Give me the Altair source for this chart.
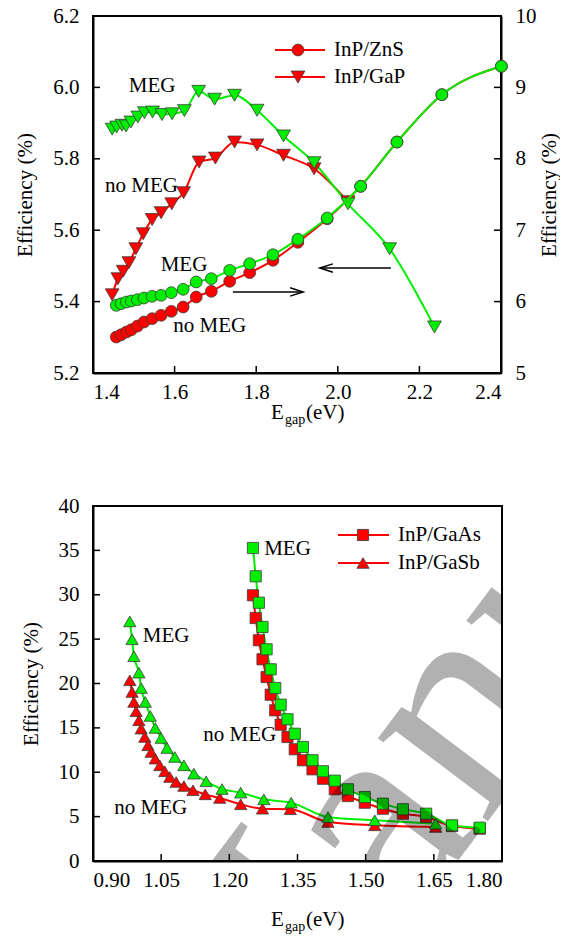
import altair as alt
import pandas as pd

FONT = "'Liberation Serif', 'Times New Roman', serif"
RED = "#ff0000"
GREEN = "#00ee00"
EDGE = "#3c3c3c"

# ---------------- top panel data ----------------
gap_nomeg_x = [1.447, 1.461, 1.474, 1.488, 1.505, 1.523, 1.545, 1.567, 1.593, 1.622,
               1.660, 1.700, 1.747, 1.802, 1.867, 1.942, 2.025]
gap_nomeg_y = [5.419, 5.464, 5.485, 5.509, 5.548, 5.590, 5.630, 5.649, 5.674, 5.705,
               5.791, 5.802, 5.847, 5.839, 5.810, 5.772, 5.680]
gap_meg_x = [1.447, 1.458, 1.471, 1.481, 1.493, 1.510, 1.526, 1.546, 1.569, 1.594,
             1.624, 1.659, 1.698, 1.747, 1.802, 1.867, 1.942, 2.025, 2.127, 2.237]
gap_meg_y = [5.883, 5.889, 5.894, 5.892, 5.903, 5.917, 5.929, 5.931, 5.924, 5.926,
             5.935, 5.989, 5.967, 5.978, 5.936, 5.864, 5.789, 5.674, 5.548, 5.329]
zns_x = [1.457, 1.469, 1.482, 1.494, 1.509, 1.525, 1.545, 1.567, 1.592, 1.621,
         1.653, 1.690, 1.735, 1.784, 1.841, 1.902, 1.974, 2.056, 2.145, 2.255, 2.401]
zns_meg = [5.948, 5.971, 5.994, 6.008, 6.027, 6.050, 6.074, 6.088, 6.125, 6.172,
           6.275, 6.321, 6.438, 6.531, 6.657, 6.873, 7.171, 7.615, 8.235, 8.898, 9.296]
zns_nomeg = [5.504, 5.536, 5.574, 5.606, 5.658, 5.714, 5.761, 5.808, 5.864, 5.924,
             6.064, 6.144, 6.284, 6.405, 6.578, 6.830, 7.160, 7.615, 8.235, 8.898, 9.296]

top_x_ticks = [1.4, 1.6, 1.8, 2.0, 2.2, 2.4]
top_left_ticks = [5.2, 5.4, 5.6, 5.8, 6.0, 6.2]
top_right_ticks = [5, 6, 7, 8, 9, 10]

top_notes_text = ["MEG", "no MEG", "MEG", "no MEG"]
top_notes_x = [1.545, 1.519, 1.623, 1.686]
top_notes_y = [6.005, 5.724, 5.503, 5.332]

# arrows (left-axis units)
arrow_right = {"x": 1.743, "x2": 1.915, "y": 5.427}
arrow_left = {"x": 2.130, "x2": 1.956, "y": 5.494}

# ---------------- bottom panel data ----------------
gaas_x = [1.252, 1.258, 1.265, 1.273, 1.282, 1.291, 1.301, 1.313, 1.328, 1.344, 1.362,
          1.383, 1.406, 1.432, 1.461, 1.498, 1.538, 1.582, 1.633, 1.690, 1.751]
gaas_meg = [35.27, 32.08, 29.10, 26.37, 23.85, 21.60, 19.49, 17.61, 15.97, 14.34, 12.85,
            11.35, 10.11, 9.05, 8.08, 7.21, 6.46, 5.83, 5.33, 4.02, 3.75]
gaas_nomeg = [29.94, 27.38, 24.87, 22.73, 20.73, 18.74, 16.98, 15.36, 13.97, 12.59, 11.35,
              10.33, 9.27, 8.08, 7.32, 6.57, 5.89, 5.33, 4.96, 3.94, 3.64]
gasb_meg_x = [0.981, 0.986, 0.990, 1.001, 1.006, 1.015, 1.026, 1.037, 1.050, 1.063, 1.080,
              1.100, 1.122, 1.149, 1.184, 1.225, 1.276, 1.336, 1.417, 1.520, 1.654]
gasb_meg = [27.0, 24.98, 23.07, 21.22, 19.49, 17.92, 16.34, 14.99, 13.86, 12.73, 11.72,
            10.78, 9.84, 8.98, 8.11, 7.70, 6.95, 6.57, 4.96, 4.59, 4.20]
gasb_nomeg_x = [0.981, 0.986, 0.990, 0.995, 1.001, 1.006, 1.014, 1.021, 1.028, 1.037, 1.047,
                1.058, 1.069, 1.083, 1.100, 1.120, 1.147, 1.179, 1.225, 1.273, 1.334,
                1.417, 1.520, 1.654]
gasb_nomeg = [20.36, 19.04, 17.92, 16.87, 15.85, 14.91, 13.97, 13.04, 12.28, 11.53, 10.78,
              10.10, 9.46, 8.90, 8.45, 7.97, 7.51, 7.10, 6.39, 5.89, 5.83, 4.39, 4.02, 3.83]

bot_x_ticks = [0.90, 1.05, 1.20, 1.35, 1.50, 1.65, 1.80]
bot_y_ticks = [0, 5, 10, 15, 20, 25, 30, 35, 40]

bot_notes_text = ["MEG", "MEG", "no MEG", "no MEG"]
bot_notes_x = [1.328, 1.061, 1.223, 1.027]
bot_notes_y = [35.1, 25.35, 14.25, 5.92]

watermark_text = "Manus"

W1, H1 = 408, 357
W2, H2 = 409, 355
TICK = 7


def df_xy(xs, ys):
    return pd.DataFrame({"x": xs, "y": ys})


def series(xs, ys, color, shape, size, xenc, yenc):
    base = alt.Chart(df_xy(xs, ys))
    line = base.mark_line(color=color, strokeWidth=2, interpolate="monotone").encode(x=xenc, y=yenc)
    pts = base.mark_point(filled=True, fill=color, stroke=EDGE, strokeWidth=0.8,
                          size=size, shape=shape, opacity=1).encode(x=xenc, y=yenc)
    return line, pts


def legend_entry(px_line0, px_line1, px_sym, px_text, py, shape, size, label):
    d = alt.Data(values=[{}])
    r = alt.Chart(d).mark_rule(color=RED, strokeWidth=2).encode(
        x=alt.value(px_line0), x2=alt.value(px_line1), y=alt.value(py))
    p = alt.Chart(d).mark_point(filled=True, fill=RED, stroke=EDGE, strokeWidth=0.8,
                                size=size, shape=shape, opacity=1).encode(
        x=alt.value(px_sym), y=alt.value(py))
    t = alt.Chart(d).mark_text(align="left", baseline="middle", fontSize=21).encode(
        x=alt.value(px_text), y=alt.value(py), text=alt.value(label))
    return [r, p, t]


def egap_title(x0, y_base):
    d = alt.Data(values=[{}])
    e = alt.Chart(d).mark_text(align="left", baseline="alphabetic", fontSize=21).encode(
        x=alt.value(x0), y=alt.value(y_base), text=alt.value("E"))
    g = alt.Chart(d).mark_text(align="left", baseline="alphabetic", fontSize=14).encode(
        x=alt.value(x0 + 14), y=alt.value(y_base + 5), text=alt.value("gap"))
    u = alt.Chart(d).mark_text(align="left", baseline="alphabetic", fontSize=21).encode(
        x=alt.value(x0 + 35), y=alt.value(y_base), text=alt.value("(eV)"))
    return [e, g, u]


# ---------------- top panel ----------------
xT = alt.X("x:Q", scale=alt.Scale(domain=[1.4, 2.4], nice=False, zero=False),
           axis=alt.Axis(values=top_x_ticks, format=".1f", title=None, labelPadding=8))
yL = alt.Y("y:Q", scale=alt.Scale(domain=[5.2, 6.2], nice=False, zero=False),
           axis=alt.Axis(values=top_left_ticks, format=".1f", title="Efficiency (%)",
                         labelPadding=14, titlePadding=17))
yR = alt.Y("y:Q", scale=alt.Scale(domain=[5, 10], nice=False, zero=False),
           axis=alt.Axis(values=top_right_ticks, format="d", title="Efficiency (%)",
                         orient="right", labelPadding=14, titlePadding=23, titleAngle=270))

gap_r_line, gap_r_pts = series(gap_nomeg_x, gap_nomeg_y, RED, "triangle-down", 190, xT, yL)
gap_g_line, gap_g_pts = series(gap_meg_x, gap_meg_y, GREEN, "triangle-down", 190, xT, yL)

top_notes = alt.Chart(pd.DataFrame({"x": top_notes_x, "y": top_notes_y, "t": top_notes_text})).mark_text(
    fontSize=21, align="center", baseline="middle").encode(x=xT, y=yL, text="t:N")

arr_df_r = pd.DataFrame([arrow_right])
arr_df_l = pd.DataFrame([arrow_left])
xs_top = alt.Scale(domain=[1.4, 2.4], nice=False, zero=False)
arr_r = alt.Chart(arr_df_r).mark_rule(color="black", strokeWidth=1.5).encode(x=xT, x2="x2:Q", y=yL)
arr_l = alt.Chart(arr_df_l).mark_rule(color="black", strokeWidth=1.5).encode(x=xT, x2="x2:Q", y=yL)
head_r = alt.Chart(arr_df_r).mark_point(shape="M-1,-0.32L0,0L-1,0.32", size=676, color="black",
                                        filled=False, strokeWidth=1.5, opacity=1).encode(
    x=alt.X("x2:Q", scale=xs_top), y=yL)
head_l = alt.Chart(arr_df_l).mark_point(shape="M1,-0.32L0,0L1,0.32", size=676, color="black",
                                        filled=False, strokeWidth=1.5, opacity=1).encode(
    x=alt.X("x2:Q", scale=xs_top), y=yL)

tick_l = alt.Chart(pd.DataFrame({"y": top_left_ticks})).mark_rule(color="black", strokeWidth=1.5).encode(
    y=yL, x=alt.value(0), x2=alt.value(TICK))
tick_x1 = alt.Chart(pd.DataFrame({"x": top_x_ticks})).mark_rule(color="black", strokeWidth=1.5).encode(
    x=xT, y=alt.value(H1), y2=alt.value(H1 - TICK))

top_legend = (legend_entry(182, 232, 205, 241, 34, "circle", 140, "InP/ZnS")
              + legend_entry(182, 232, 205, 241, 61, "triangle-down", 190, "InP/GaP"))

left_group = alt.layer(tick_l, tick_x1, gap_r_line, gap_g_line, gap_r_pts, gap_g_pts,
                       top_notes, arr_r, arr_l, head_r, head_l,
                       *top_legend, *egap_title(178, 403))

zns_r_line, zns_r_pts = series(zns_x, zns_nomeg, RED, "circle", 140, xT, yR)
zns_g_line, zns_g_pts = series(zns_x, zns_meg, GREEN, "circle", 140, xT, yR)
tick_r = alt.Chart(pd.DataFrame({"y": top_right_ticks})).mark_rule(color="black", strokeWidth=1.5).encode(
    y=yR, x=alt.value(W1 - TICK), x2=alt.value(W1))
right_group = alt.layer(tick_r, zns_r_line, zns_r_pts, zns_g_line, zns_g_pts)

top = alt.layer(left_group, right_group).resolve_scale(y="independent").properties(width=W1, height=H1)

# ---------------- bottom panel ----------------
xB = alt.X("x:Q", scale=alt.Scale(domain=[0.9, 1.8], nice=False, zero=False),
           axis=alt.Axis(values=bot_x_ticks, format=".2f", title=None, labelPadding=8))
yB = alt.Y("y:Q", scale=alt.Scale(domain=[0, 40], nice=False, zero=False),
           axis=alt.Axis(values=bot_y_ticks, format="d", title="Efficiency (%)",
                         labelPadding=14, titlePadding=17))

sb_r_line, sb_r_pts = series(gasb_nomeg_x, gasb_nomeg, RED, "triangle-up", 150, xB, yB)
sb_g_line, sb_g_pts = series(gasb_meg_x, gasb_meg, GREEN, "triangle-up", 150, xB, yB)
as_r_line, as_r_pts = series(gaas_x, gaas_nomeg, RED, "square", 125, xB, yB)
as_g_line, as_g_pts = series(gaas_x, gaas_meg, GREEN, "square", 125, xB, yB)

bot_notes = alt.Chart(pd.DataFrame({"x": bot_notes_x, "y": bot_notes_y, "t": bot_notes_text})).mark_text(
    fontSize=21, align="center", baseline="middle").encode(x=xB, y=yB, text="t:N")

tick_lb = alt.Chart(pd.DataFrame({"y": bot_y_ticks})).mark_rule(color="black", strokeWidth=1.5).encode(
    y=yB, x=alt.value(0), x2=alt.value(TICK))
tick_xb = alt.Chart(pd.DataFrame({"x": bot_x_ticks})).mark_rule(color="black", strokeWidth=1.5).encode(
    x=xB, y=alt.value(H2), y2=alt.value(H2 - TICK))

bot_legend = (legend_entry(245, 296, 270, 305, 29, "square", 125, "InP/GaAs")
              + legend_entry(245, 296, 270, 305, 57, "triangle-up", 150, "InP/GaSb"))

watermark = alt.Chart(alt.Data(values=[{}])).mark_text(
    align="left", baseline="alphabetic", fontSize=300, angle=307,
    color="black", opacity=0.3, clip=True).encode(
    x=alt.value(150), y=alt.value(640), text=alt.value(watermark_text))

bottom = alt.layer(tick_lb, tick_xb, sb_r_line, sb_g_line, as_r_line, as_g_line,
                   sb_r_pts, sb_g_pts, as_r_pts, as_g_pts, bot_notes,
                   *bot_legend, *egap_title(178, 420), watermark).properties(width=W2, height=H2)

chart = alt.vconcat(top, bottom, spacing=66).properties(
    padding={"left": 5, "top": -4, "right": 0, "bottom": 0}
).configure_axis(
    labelFont=FONT, titleFont=FONT, labelFontSize=21, titleFontSize=21,
    labelColor="black", titleColor="black", titleFontWeight="normal",
    domainColor="black", domainWidth=2, ticks=False, grid=False
).configure_view(stroke="black", strokeWidth=2).configure_text(font=FONT, color="black")

chart.save("out.html", embed_options={"renderer": "svg", "actions": False})
